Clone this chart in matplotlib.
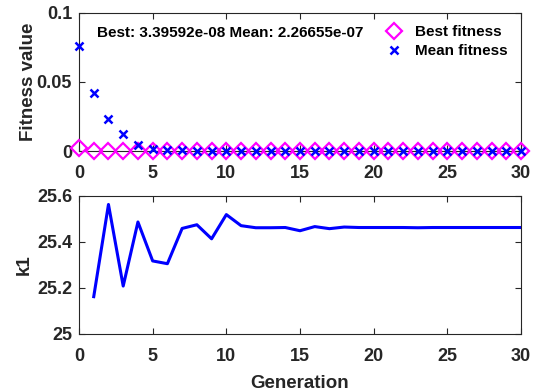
import matplotlib
matplotlib.use('Agg')
import matplotlib.pyplot as plt
import numpy as np

plt.rcParams['font.family'] = ['Liberation Sans', 'DejaVu Sans']
plt.rcParams['font.weight'] = 'bold'

generations = np.arange(0, 31)
best_fitness = [0.0024] + [0.0] * 30
mean_fitness = [0.0761, 0.0417, 0.0231, 0.0121, 0.0041, 0.0017, 0.0008, 0.0005,
                0.0003, 0.0002, 0.0001] + [0.0] * 20

k1_gens = np.arange(1, 31)
k1_values = [25.162, 25.562, 25.208, 25.486, 25.317, 25.305, 25.458, 25.474,
             25.413, 25.518, 25.470, 25.461, 25.461, 25.462, 25.448, 25.466,
             25.457, 25.464, 25.462, 25.462, 25.462, 25.462, 25.461, 25.462,
             25.462, 25.462, 25.462, 25.462, 25.462, 25.462]

best_text = 'Best: 3.39592e-08 Mean: 2.26655e-07'
dark = '#262626'


def style_axes(ax):
    ax.tick_params(direction='in', top=True, right=True, length=4,
                   labelsize=13, width=0.8, labelcolor=dark, color=dark)
    ax.tick_params(axis='x', pad=10)
    ax.tick_params(axis='y', pad=5)
    for lab in ax.get_xticklabels() + ax.get_yticklabels():
        lab.set_fontweight('bold')
    for s in ax.spines.values():
        s.set_linewidth(0.8)
        s.set_color(dark)


fig = plt.figure(figsize=(5.39, 3.92), dpi=100)
ax1 = fig.add_axes([79 / 539, 1 - 151 / 392, 442 / 539, 138.3 / 392])
ax2 = fig.add_axes([79 / 539, 1 - 334 / 392, 442 / 539, 138.3 / 392])

ax1.plot(generations, best_fitness, linestyle='none', marker='D', markersize=8,
         markerfacecolor='none', markeredgecolor='#ff00ff', markeredgewidth=1.6,
         label='Best fitness', clip_on=False, zorder=3)
ax1.plot(generations, mean_fitness, linestyle='none', marker='x', markersize=6,
         color='#0000ff', markeredgewidth=1.8, label='Mean fitness',
         clip_on=False, zorder=4)
ax1.set_xlim(0, 30)
ax1.set_ylim(0, 0.1)
ax1.set_yticks([0, 0.05, 0.1])
ax1.set_yticklabels(['0', '0.05', '0.1'])
ax1.set_xticks(np.arange(0, 31, 5))
ax1.set_ylabel('Fitness value', fontsize=13.5, fontweight='bold', color=dark,
               labelpad=0)
ax1.text(0.04, 0.855, best_text, transform=ax1.transAxes, fontsize=11,
         fontweight='bold', va='center')
leg = ax1.legend(loc='upper right', frameon=False, fontsize=11,
                 bbox_to_anchor=(1.0, 1.01), handletextpad=0.6,
                 labelspacing=0.33, handlelength=1.5)
for t in leg.get_texts():
    t.set_fontweight('bold')
style_axes(ax1)

ax2.plot(k1_gens, k1_values, color='#0000ff', linewidth=2.2)
ax2.set_xlim(0, 30)
ax2.set_ylim(25, 25.6)
ax2.set_yticks([25, 25.2, 25.4, 25.6])
ax2.set_yticklabels(['25', '25.2', '25.4', '25.6'])
ax2.set_xticks(np.arange(0, 31, 5))
ax2.set_xlabel('Generation', fontsize=13.5, fontweight='bold', color=dark,
               labelpad=7)
ax2.set_ylabel('k1', fontsize=13.5, fontweight='bold', color=dark, labelpad=3)
style_axes(ax2)

fig.savefig('out.png', dpi=100)
